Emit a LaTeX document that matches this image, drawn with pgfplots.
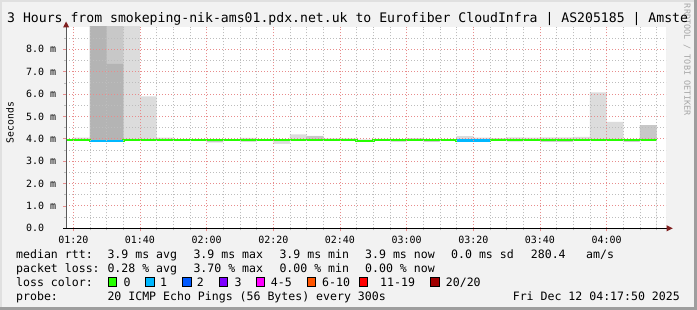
\documentclass[border=0pt]{standalone}
\usepackage{pgfplots}
\usepackage{pgfplotstable}
\pgfplotsset{compat=1.18}
\usepackage{fontspec}
\setmainfont{DejaVu Sans Mono}
\definecolor{bg}{HTML}{F2F2F2}
\definecolor{shadeA}{HTML}{E0E0E0}
\definecolor{shadeB}{HTML}{9E9E9E}
\definecolor{mgrid}{HTML}{E88C8C}
\definecolor{ngrid}{HTML}{BDBDBD}
\definecolor{smokeL}{HTML}{DCDCDC}
\definecolor{smokeM}{HTML}{C8C8C8}
\definecolor{smokeD}{HTML}{B4B4B4}
\definecolor{arrowc}{HTML}{7F1F1F}
\definecolor{lc0}{HTML}{26FF00}
\definecolor{lc1}{HTML}{00B8FF}
\definecolor{lc2}{HTML}{0059FF}
\definecolor{lc3}{HTML}{7E00FF}
\definecolor{lc4}{HTML}{FF00FF}
\definecolor{lc6}{HTML}{FF5500}
\definecolor{lc11}{HTML}{FF0000}
\definecolor{lc20}{HTML}{A10000}
\newcommand\legfont{\fontsize{11.6}{14}\selectfont}

% minutes after 01:20, smoke layer tops, lower edge, median (ms)
\pgfplotstableread{
x    light mid  dark lo   med
-5   3.95  0    0    3.93 3.95
0    4.05  0    0    3.93 3.95
5    9.5   9.5  9.5  3.85 3.90
10   9.5   9.5  7.35 3.85 3.90
15   9.5   0    0    3.90 3.95
20   5.90  0    0    3.92 3.95
25   4.05  0    0    3.93 3.95
30   3.97  0    0    3.93 3.95
35   3.95  0    0    3.93 3.95
40   3.95  3.95 0    3.84 3.95
45   3.95  0    0    3.92 3.95
50   4.04  3.95 0    3.88 3.95
55   3.95  0    0    3.93 3.95
60   3.95  0    0    3.77 3.95
65   4.20  3.95 0    3.90 3.95
70   4.13  4.12 0    3.91 3.95
75   4.02  0    0    3.92 3.95
80   4.02  0    0    3.92 3.95
85   3.98  0    0    3.86 3.89
90   4.00  0    0    3.90 3.95
95   3.97  3.95 0    3.88 3.95
100  4.03  0    0    3.93 3.95
105  3.96  3.95 0    3.86 3.95
110  3.96  0    0    3.92 3.95
115  4.12  0    0    3.90 3.92
120  4.05  0    0    3.90 3.92
125  4.03  0    0    3.90 3.95
130  4.07  0    0    3.88 3.95
135  4.05  0    0    3.90 3.95
140  4.06  3.95 0    3.86 3.95
145  4.06  3.95 0    3.86 3.95
150  4.09  0    0    3.92 3.95
155  6.08  0    0    3.92 3.95
160  4.76  0    0    3.90 3.95
165  3.95  3.95 0    3.86 3.95
170  4.61  4.61 0    3.90 3.95
175  4.61  4.61 0    3.90 3.95
}\smoke

\pgfplotstableread{
x   med
5   3.90
10  3.90
15  3.90
}\blueA
\pgfplotstableread{
x   med
115 3.92
120 3.92
125 3.92
}\blueB

\begin{document}
\begin{tikzpicture}
\useasboundingbox (0,0) rectangle (697bp,310bp);
\fill[bg] (0,0) rectangle (697bp,310bp);
% watermark
\node[rotate=-90, inner sep=0pt, text=black!35, font=\fontsize{8.5}{10}\selectfont] at (687bp,250bp) {RRDTOOL / TOBI OETIKER};
% title
\begin{scope}
\clip (0,0) rectangle (694bp,310bp);
\node[anchor=base west, inner sep=0pt, font=\fontsize{13.2}{15}\selectfont] at (7bp,287bp) {3 Hours from smokeping-nik-ams01.pdx.net.uk to Eurofiber CloudInfra | AS205185 | Amste};
\end{scope}

\begin{axis}[
  at={(66.1bp,81.7bp)}, anchor=south west,
  scale only axis, width=600bp, height=201.3bp,
  xmin=-2.1667, xmax=177.8333, ymin=0, ymax=9,
  axis background/.style={fill=white},
  axis x line*=bottom, axis y line*=left,
  axis line style={draw=none},
  xtick={0,20,...,160},
  xticklabels={01:20,01:40,02:00,02:20,02:40,03:00,03:20,03:40,04:00},
  minor xtick={5,10,15,25,30,35,45,50,55,65,70,75,85,90,95,105,110,115,125,130,135,145,150,155,165,170,175},
  ytick={0,1,...,8},
  yticklabels={0.0\hphantom{~m},1.0~m,2.0~m,3.0~m,4.0~m,5.0~m,6.0~m,7.0~m,8.0~m},
  minor ytick={0.5,1.5,...,8.5},
  grid=both,
  major grid style={draw=mgrid, line width=0.9bp, dash pattern=on 1bp off 2bp},
  minor grid style={draw=ngrid, line width=0.9bp, dash pattern=on 1bp off 2bp},
  tick align=outside,
  major tick length=3bp, minor tick length=2bp,
  major tick style={draw=mgrid, line width=0.8bp},
  minor tick style={draw=ngrid, line width=0.8bp},
  xticklabel style={font=\fontsize{10}{12}\selectfont, anchor=base, inner sep=0pt, yshift=-12.7bp},
  yticklabel style={font=\fontsize{10}{12}\selectfont, anchor=base east, inner sep=0pt, xshift=-6.8bp, yshift=-3.6bp},
  axis on top,
  clip=true,
]
\addplot[const plot, fill=smokeL, draw=none] table[x=x, y=light] {\smoke} \closedcycle;
\addplot[const plot, fill=smokeM, draw=none] table[x=x, y=mid] {\smoke} \closedcycle;
\addplot[const plot, fill=smokeD, draw=none] table[x=x, y=dark] {\smoke} \closedcycle;
\addplot[const plot, fill=white, draw=none] table[x=x, y=lo] {\smoke} \closedcycle;
\addplot[const plot, draw=lc0, line width=2.4bp] table[x=x, y=med] {\smoke};
\addplot[const plot, draw=lc1, line width=2.4bp] table[x=x, y=med] {\blueA};
\addplot[const plot, draw=lc1, line width=2.4bp] table[x=x, y=med] {\blueB};
\end{axis}

% axes with arrows
\draw[black!65, line width=1bp] (66.1bp,81.7bp) -- (66.1bp,283bp);
\fill[arrowc] (63bp,282.5bp) -- (66.1bp,288.5bp) -- (69.2bp,282.5bp) -- cycle;
\draw[black, line width=1bp] (63bp,81.7bp) -- (667bp,81.7bp);
\fill[arrowc] (666.5bp,84.8bp) -- (672.8bp,81.7bp) -- (666.5bp,78.6bp) -- cycle;

% y label
\node[rotate=90, inner sep=0pt, font=\fontsize{9.8}{11}\selectfont] at (10bp,187.5bp) {Seconds};

% legend
\begin{scope}[every node/.style={anchor=base west, inner sep=0pt, font=\legfont}]
\node at (16bp,51.7bp) {median rtt:};
\node at (107.3bp,51.7bp) {3.9 ms avg};
\node at (193.3bp,51.7bp) {3.9 ms max};
\node at (279.3bp,51.7bp) {3.9 ms min};
\node at (365bp,51.7bp) {3.9 ms now};
\node at (451bp,51.7bp) {0.0 ms sd};
\node at (530.7bp,51.7bp) {280.4};
\node at (586bp,51.7bp) {am/s};

\node at (16bp,37.7bp) {packet loss:};
\node at (107.3bp,37.7bp) {0.28 \% avg};
\node at (193.3bp,37.7bp) {3.70 \% max};
\node at (279.3bp,37.7bp) {0.00 \% min};
\node at (365bp,37.7bp) {0.00 \% now};

\node at (16bp,23.7bp) {loss color:};
\node at (123.3bp,23.7bp) {0};
\node at (160bp,23.7bp) {1};
\node at (196.7bp,23.7bp) {2};
\node at (234.3bp,23.7bp) {3};
\node at (270.7bp,23.7bp) {4-5};
\node at (322bp,23.7bp) {6-10};
\node at (380bp,23.7bp) {11-19};
\node at (445.7bp,23.7bp) {20/20};

\node at (16bp,9.7bp) {probe:};
\node at (107.3bp,9.7bp) {20 ICMP Echo Pings (56 Bytes) every 300s};
\node[anchor=base east] at (680bp,9.7bp) {Fri Dec 12 04:17:50 2025};
\end{scope}
\foreach \xx/\cc in {108.3/lc0,145.7/lc1,182.7/lc2,219.3/lc3,256/lc4,307.3/lc6,359/lc11,430.7/lc20}{
  \filldraw[fill=\cc, draw=black, line width=0.8bp] (\xx bp,23.7bp) rectangle ++(8.5bp,8.5bp);
}

% frame shades
\fill[shadeA] (0,0) rectangle (2bp,310bp);
\fill[shadeA] (0,308bp) rectangle (697bp,310bp);
\fill[shadeB] (694bp,0) rectangle (697bp,310bp);
\fill[shadeB] (0,0) rectangle (697bp,3bp);
\end{tikzpicture}
\end{document}
